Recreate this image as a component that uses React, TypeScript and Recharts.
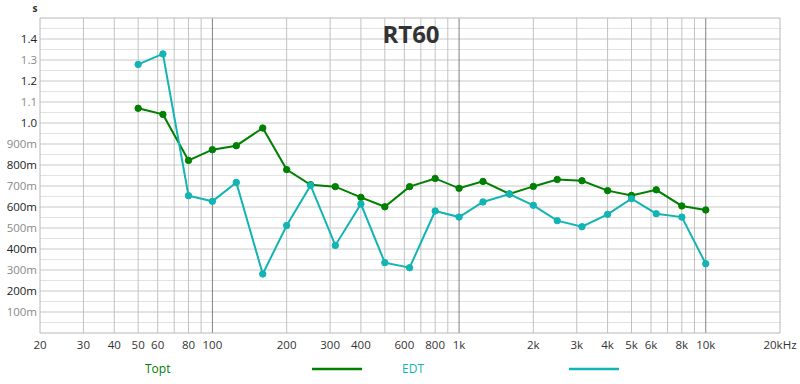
import React from 'react';
import { LineChart, Line, XAxis, YAxis, ReferenceLine } from 'recharts';

const freqs = [50, 63, 80, 100, 125, 160, 200, 250, 315, 400, 500, 630, 800, 1000, 1250, 1600, 2000, 2500, 3150, 4000, 5000, 6300, 8000, 10000];
const topt = [1.070, 1.041, 0.822, 0.873, 0.892, 0.976, 0.778, 0.706, 0.697, 0.646, 0.601, 0.697, 0.736, 0.689, 0.722, 0.662, 0.698, 0.731, 0.725, 0.678, 0.655, 0.682, 0.605, 0.586];
const edt = [1.279, 1.329, 0.654, 0.627, 0.717, 0.281, 0.512, 0.703, 0.417, 0.614, 0.335, 0.311, 0.581, 0.552, 0.624, 0.662, 0.608, 0.535, 0.506, 0.565, 0.640, 0.568, 0.552, 0.330];

const xTicks = [20, 30, 40, 50, 60, 80, 100, 200, 300, 400, 600, 800, 1000, 2000, 3000, 4000, 5000, 6000, 8000, 10000, 20000];
const xTickLabels = ['20', '30', '40', '50', '60', '80', '100', '200', '300', '400', '600', '800', '1k', '2k', '3k', '4k', '5k', '6k', '8k', '10k', '20kHz'];
const xMinorGrid = [30, 40, 50, 60, 70, 80, 90, 200, 300, 400, 500, 600, 700, 800, 900, 2000, 3000, 4000, 5000, 6000, 7000, 8000, 9000];
const xDecadeGrid = [100, 1000, 10000];
const yTicks = [0.1, 0.2, 0.3, 0.4, 0.5, 0.6, 0.7, 0.8, 0.9, 1.0, 1.1, 1.2, 1.3, 1.4];
const yMinorGrid = [0.05, 0.15, 0.25, 0.35, 0.45, 0.55, 0.65, 0.75, 0.85, 0.95, 1.05, 1.15, 1.25, 1.35, 1.45];

const seriesNames = ['Topt', 'EDT'];
const seriesColors = ['#008000', '#12b4b4'];
const title = 'RT60';
const unitLabel = 's';

const data = freqs.map((f, i) => ({ f, topt: topt[i], edt: edt[i] }));

const FONT = "'Open Sans', sans-serif";

const fmtY = (v: number) => (v >= 0.999 ? v.toFixed(1) : `${Math.round(v * 1000)}m`);

const YTick = (props: any) => {
  const { x, y, payload } = props;
  const idx = yTicks.findIndex((t) => Math.abs(t - payload.value) < 1e-6);
  const dark = idx % 2 === 1;
  return (
    <text x={x} y={y} dy="0.355em" textAnchor="end" fontSize={11.5} fontFamily={FONT} fill={dark ? '#222' : '#8a8a8a'}>
      {fmtY(payload.value)}
    </text>
  );
};

const XTick = (props: any) => {
  const { x, y, payload } = props;
  const idx = xTicks.indexOf(payload.value);
  return (
    <text x={x} y={y} dy="0.71em" textAnchor="middle" fontSize={11.5} fontFamily={FONT} fill="#333">
      {xTickLabels[idx]}
    </text>
  );
};

export default function App() {
  return (
    <div style={{ position: 'absolute', left: 0, top: 0, width: 800, height: 384, background: '#fff' }}>
      <LineChart width={800} height={384} data={data} margin={{ top: 18, right: 20, bottom: 0, left: 0 }}>
        {yMinorGrid.map((v) => (
          <ReferenceLine key={`ym${v}`} y={v} stroke="#e2e2e2" strokeWidth={1} />
        ))}
        {yTicks.map((v) => (
          <ReferenceLine key={`yM${v}`} y={v} stroke="#c8c8c8" strokeWidth={1} />
        ))}
        {xMinorGrid.map((v) => (
          <ReferenceLine key={`xm${v}`} x={v} stroke="#c2c2c2" strokeWidth={1} />
        ))}
        {xDecadeGrid.map((v) => (
          <ReferenceLine key={`xd${v}`} x={v} stroke="#808080" strokeWidth={1} />
        ))}
        <ReferenceLine y={1.5} stroke="#b8b8b8" strokeWidth={1} />
        <ReferenceLine x={20000} stroke="#b8b8b8" strokeWidth={1} />
        <XAxis
          dataKey="f"
          type="number"
          scale="log"
          domain={[20, 20000]}
          ticks={xTicks}
          interval={0}
          height={51}
          tickLine={false}
          axisLine={{ stroke: '#b8b8b8' }}
          tick={<XTick />}
          allowDataOverflow
        />
        <YAxis
          type="number"
          domain={[0, 1.5]}
          ticks={yTicks}
          interval={0}
          width={40}
          tickLine={false}
          tickSize={0}
          tickMargin={3}
          axisLine={{ stroke: '#b8b8b8' }}
          tick={<YTick />}
          allowDataOverflow
        />
        <Line
          dataKey="topt"
          name={seriesNames[0]}
          stroke={seriesColors[0]}
          strokeWidth={2}
          dot={{ r: 3.2, fill: seriesColors[0], stroke: seriesColors[0], strokeWidth: 1 }}
          isAnimationActive={false}
        />
        <Line
          dataKey="edt"
          name={seriesNames[1]}
          stroke={seriesColors[1]}
          strokeWidth={2}
          dot={{ r: 3.2, fill: seriesColors[1], stroke: seriesColors[1], strokeWidth: 1 }}
          isAnimationActive={false}
        />
      </LineChart>
      <svg width={800} height={60} style={{ position: 'absolute', left: 0, top: 0, pointerEvents: 'none' }}>
        <text x={411} y={43} textAnchor="middle" fontSize={24} fontWeight="bold" fontFamily={FONT} fill="#333">
          {title}
        </text>
        <text x={35} y={12} textAnchor="middle" fontSize={10} fontWeight="bold" fontFamily={FONT} fill="#333">
          {unitLabel}
        </text>
      </svg>
      <svg width={800} height={30} style={{ position: 'absolute', left: 0, top: 354 }}>
        {seriesNames.map((n, i) => (
          <g key={n}>
            <text x={145 + i * 257} y={19} fontSize={12} fontFamily={FONT} fill={seriesColors[i]}>
              {n}
            </text>
            <line x1={312 + i * 257} x2={362 + i * 257} y1={15} y2={15} stroke={seriesColors[i]} strokeWidth={2.5} />
          </g>
        ))}
      </svg>
    </div>
  );
}
